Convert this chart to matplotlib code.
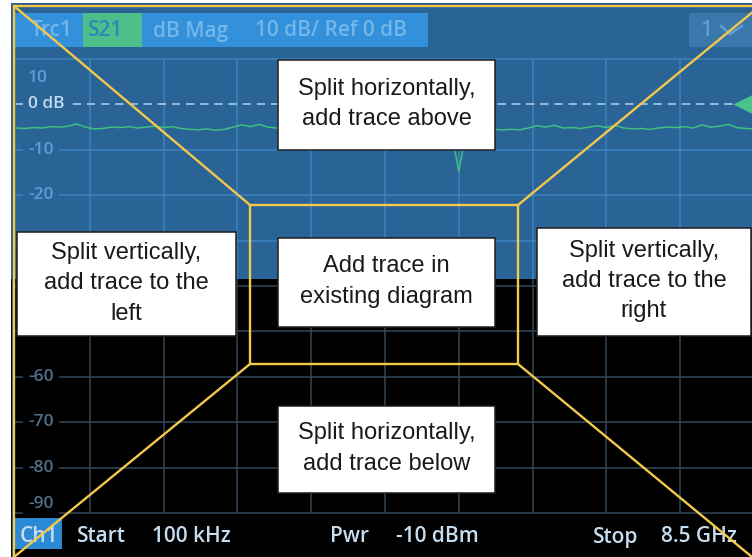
import numpy as np
import matplotlib.pyplot as plt
import matplotlib.transforms as mtransforms
from matplotlib.patches import Rectangle

plt.rcParams['font.family'] = ['Open Sans', 'DejaVu Sans']

# instrument settings shown on screen
start_ghz = 0.0001
stop_ghz = 8.5
ref_db = 0
scale_db = 10
n_div = 10

# S21 trace
trace_ghz = [0.0001, 0.1, 0.2, 0.3, 0.4, 0.5, 0.6, 0.7, 0.8, 0.9,
             1.0, 1.1, 1.2, 1.3, 1.4, 1.5, 1.6, 1.7, 1.8, 1.9,
             2.0, 2.1, 2.2, 2.3, 2.4, 2.5, 2.6, 2.7, 2.8, 2.9,
             3.0, 3.1, 3.2, 3.3, 3.4, 3.5, 3.6, 3.7, 3.8, 3.9,
             4.0, 4.1, 4.2, 4.3, 4.4, 4.5, 4.6, 4.7, 4.8, 4.9,
             5.0, 5.05, 5.1, 5.15, 5.2, 5.3, 5.4, 5.5, 5.6, 5.7,
             5.8, 5.9, 6.0, 6.1, 6.2, 6.3, 6.4, 6.5, 6.6, 6.7,
             6.8, 6.9, 7.0, 7.1, 7.2, 7.3, 7.4, 7.5, 7.6, 7.7,
             7.8, 7.9, 8.0, 8.1, 8.2, 8.3, 8.4, 8.5]
trace_db = [-5.2, -5.3, -5.1, -5.2, -4.9, -5.0, -4.8, -4.3, -5.0, -5.4,
            -5.3, -5.0, -5.1, -4.9, -5.2, -5.0, -4.8, -5.1, -4.9, -5.3,
            -5.5, -5.6, -5.4, -5.7, -5.5, -5.0, -4.5, -4.9, -4.4, -5.0,
            -5.2, -5.1, -5.3, -5.0, -5.2, -4.9, -5.1, -5.3, -5.0, -5.2,
            -5.4, -5.1, -5.0, -5.3, -5.2, -5.0, -5.3, -5.1, -5.4, -5.2,
            -5.6, -9.6, -14.8, -9.6, -5.7, -5.3, -5.1, -5.5, -5.6, -5.5,
            -5.6, -5.2, -4.7, -5.0, -4.6, -5.2, -5.1, -5.3, -5.0, -4.7,
            -5.1, -4.6, -5.2, -5.4, -5.3, -5.5, -5.2, -5.0, -5.1, -4.9,
            -5.2, -4.5, -5.0, -4.8, -4.4, -5.1, -5.3, -5.4]

y_labels = [10, 0, -10, -20, -30, -40, -50, -60, -70, -80, -90]
covered_labels = [-30, -40]   # hidden behind the left drop-zone box

header_items = [("Trc1", 31), ("S21", 88), ("dB Mag", 153), ("10 dB/ Ref 0 dB", 255)]
footer_items = [("Ch1", 20), ("Start", 77), ("100 kHz", 152), ("Pwr", 330),
                ("-10 dBm", 396), ("Stop", 593), ("8.5 GHz", 661)]

# drop zones: text, x, y, w, h (pixels)
zones = [
    ("Split horizontally,\nadd trace above", 278, 60, 217, 90),
    ("Split vertically,\nadd trace to the\nleft", 17, 232, 219, 104),
    ("Add trace in\nexisting diagram", 278, 238, 217, 89),
    ("Split vertically,\nadd trace to the\nright", 537, 228, 214, 108),
    ("Split horizontally,\nadd trace below", 278, 406, 217, 87),
]

blue_bg = '#2a6496'
blue_grid = '#3c83c0'
dark_grid = '#33475a'
yellow = '#f3c84b'
green = '#3fbf80'

W, H = 752, 557
fig = plt.figure(figsize=(W / 100, H / 100), dpi=100, facecolor='white')


def pixel_axes(z):
    a = fig.add_axes([0, 0, 1, 1], zorder=z)
    a.set_xlim(0, W)
    a.set_ylim(H, 0)
    a.axis('off')
    return a


bg = pixel_axes(0)
ov = pixel_axes(3)

# screen background: upper half highlighted in blue
bg.add_patch(Rectangle((11, 3), W, 276, color=blue_bg, lw=0))
bg.add_patch(Rectangle((11, 279), W, H, color='black', lw=0))
bg.plot([11.5, 11.5, W], [H, 3.5, 3.5], color='#23557f', lw=1)

# header bar
bg.add_patch(Rectangle((14, 13), 414, 34, color='#3390da', lw=0))
bg.add_patch(Rectangle((83, 13), 59, 34, color='#4cbf8b', lw=0))
bg.add_patch(Rectangle((689, 13), 70, 34, color='#3a77aa', lw=0))
for txt, x in header_items:
    c = '#2f86b8' if txt == 'S21' else '#72b6ea'
    bg.text(x, 31, txt, color=c, fontsize=15, va='center', ha='left',
            fontweight=600)
bg.text(700, 31, "1", color='#5f9fd2', fontsize=15, va='center', ha='left',
        fontweight=600)
bg.plot([721, 730, 742], [26, 34, 26], color='#5f9fd2', lw=1.8)

# footer bar
bg.add_patch(Rectangle((14, 518), 48, 31, color='#2c8ad4', lw=0))
for txt, x in footer_items:
    bg.text(x, 537, txt, color='#c6dcef', fontsize=15, va='center', ha='left',
            fontweight=600)

# diagram
ax = fig.add_axes([16 / W, 1 - 513 / H, 738 / W, 454 / H], zorder=1)
ax.set_xlim(start_ghz, stop_ghz)
ax.set_ylim(ref_db - 9 * scale_db, ref_db + scale_db)
ax.axis('off')

split_db = ax.transData.inverted().transform((0, H - 279))[1]
grid_x = np.linspace(start_ghz, stop_ghz, n_div + 1)[1:]
ax.vlines(grid_x, split_db, ref_db + scale_db, color=blue_grid, lw=1.1)
ax.vlines(grid_x, ref_db - 9 * scale_db, split_db, color=dark_grid, lw=1.1)

blend = mtransforms.blended_transform_factory(ax.transAxes, ax.transData)
for v in y_labels:
    upper = v > split_db
    gc = blue_grid if upper else dark_grid
    face = blue_bg if upper else 'black'
    if v == ref_db:
        ax.axhline(v, color='#a9c9e8', lw=1.2, dashes=(5, 3.5), clip_on=False)
        lab, tc = "0 dB", '#c3dbf0'
    else:
        ax.axhline(v, color=gc, lw=1.1, clip_on=False)
        lab, tc = str(v), '#5a9fd6' if upper else '#50708c'
    if v in covered_labels:
        continue
    if v == ref_db + scale_db:
        va, dy = 'top', -8
    elif v == ref_db - 9 * scale_db:
        va, dy = 'bottom', 1
    else:
        va, dy = 'center', 0
    ax.annotate(lab, xy=(0.0163, v), xycoords=blend, xytext=(0, dy),
                textcoords='offset points', va=va, ha='left', color=tc,
                fontsize=12.5, fontweight=600, annotation_clip=False,
                bbox=dict(boxstyle='square,pad=0.3', fc=face, ec='none'))

ax.plot(trace_ghz, trace_db, color=green, lw=1.1)
ax.plot([0.9865], [ref_db], marker='<', ms=16, color='#46c48b', mec='none',
        transform=blend, clip_on=False)

# yellow drop-zone outline
ov.plot([14, 14, W + 5], [H + 5, 6, 6], color=yellow, lw=1.7)
ov.add_patch(Rectangle((250, 205), 268, 159, fill=False, ec=yellow, lw=1.7))
for (x0, y0), (x1, y1) in [((14, 6), (250, 205)), ((518, 205), (760, 6)),
                           ((250, 364), (14, 557)), ((518, 364), (752, 557))]:
    ov.plot([x0, x1], [y0, y1], color=yellow, lw=1.7)

for txt, x, y, w, h in zones:
    ov.add_patch(Rectangle((x, y), w, h, fc='white', ec='#1e1e1e', lw=1.1))
    ov.text(x + w / 2, y + h / 2 - 1, txt, ha='center', va='center',
            family='Liberation Sans', fontsize=17, color='#1a1a1a',
            linespacing=1.5)

fig.savefig('out.png', dpi=100, facecolor='white')
